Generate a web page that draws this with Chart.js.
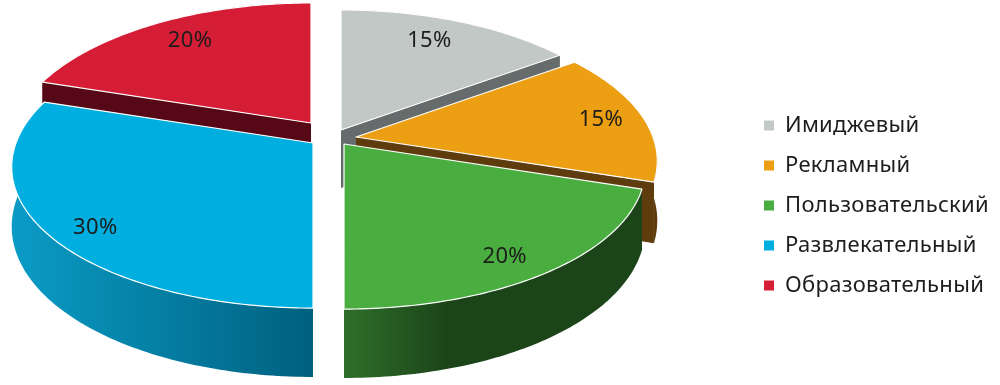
<!DOCTYPE html>
<html><head><meta charset="utf-8">
<script src="https://cdn.jsdelivr.net/npm/chart.js@4"></script>
<style>html,body{margin:0;padding:0;background:#fff}canvas{display:block}</style>
</head><body><canvas id="c" width="1000" height="385"></canvas>
<script>
const categories = ['Имиджевый','Рекламный','Пользовательский','Развлекательный','Образовательный'];
const shares = [15,15,20,30,20];
const topColors = ['#c1c8c6','#ec9f12','#49ae3f','#00aee0','#d51e36'];
const sideColors = [['#666c6b','#666c6b'],['#5f3c0d','#5f3c0d'],['#2f6f2a','#1b4419'],['#0a9cc6','#00607f'],['#560816','#560816']];
const paintOrder = [0,4,1,2,3];
// view settings of the tilted disc
const view = {cx:328, cy:135, rx:297, ry:139, perspX:0.168, perspY:0.158, depth:58, labelR:0.8};
const explode = [[13,-5],[28,2],[16,9],[-15,8],[-17,-12]];
const labelNudge = [[-8,0],[15,0],[4,13],[-9,14],[5,-1]];

function project(i, r, a, down){
  const X=r*Math.cos(a), Y=r*Math.sin(a), sx=1/(1-view.perspX*Y), s=1/(1-view.perspY*Y);
  return {x:view.cx+explode[i][0]+view.rx*X*sx,
          y:view.cy+explode[i][1]+view.ry*Y*s+(down?view.depth*s:0)};
}
function poly(ctx, pts){ctx.beginPath();pts.forEach((p,j)=>j?ctx.lineTo(p.x,p.y):ctx.moveTo(p.x,p.y));ctx.closePath();}
function arcPts(i,a0,a1,down){const n=Math.max(8,Math.ceil((a1-a0)*60)),o=[];for(let k=0;k<=n;k++)o.push(project(i,1,a0+(a1-a0)*k/n,down));return o;}

const disc3d = {
  id:'disc3d',
  beforeLayout(chart){chart.ctx.letterSpacing='0.3px';},
  beforeDraw(chart){chart.ctx.letterSpacing='0.3px';},
  beforeDatasetsDraw(chart){
    const ctx=chart.ctx, arcs=chart.getDatasetMeta(0).data;
    ctx.save();
    paintOrder.forEach(i=>{
      const a0=arcs[i].startAngle, a1=arcs[i].endAngle;
      const top=arcPts(i,a0,a1,false), bot=arcPts(i,a0,a1,true);
      const xs=top.map(p=>p.x), minX=Math.min(...xs), maxX=Math.max(...xs);
      const grad=ctx.createLinearGradient(minX,0,maxX,0);
      grad.addColorStop(0,sideColors[i][0]);
      grad.addColorStop(i===2?0.35:1,sideColors[i][1]);
      if(i===2)grad.addColorStop(1,sideColors[i][1]);
      // outer wall
      poly(ctx,top.concat(bot.slice().reverse()));ctx.fillStyle=grad;ctx.fill();
      // cut faces
      const cA=project(i,0,0,false), cB=project(i,0,0,true);
      [a0,a1].forEach(a=>{
        poly(ctx,[cA,project(i,1,a,false),project(i,1,a,true),cB]);
        ctx.fillStyle=sideColors[i][1];ctx.fill();
      });
      // top
      poly(ctx,[cA].concat(top));
      ctx.fillStyle=topColors[i];ctx.fill();
      ctx.strokeStyle='#fff';ctx.lineWidth=1.2;ctx.lineJoin='round';ctx.stroke();
    });
    // value labels
    ctx.fillStyle='#1d1d1b';ctx.font='22px "Noto Sans"';ctx.textAlign='center';ctx.textBaseline='middle';
    arcs.forEach((el,i)=>{
      const p=project(i,view.labelR,(el.startAngle+el.endAngle)/2,false);
      ctx.fillText(shares[i]+'%',p.x+labelNudge[i][0],p.y+labelNudge[i][1]);
    });
    ctx.restore();
    return false;
  }
};

new Chart(document.getElementById('c'),{
  type:'pie',
  data:{labels:categories,datasets:[{data:shares,backgroundColor:topColors,borderWidth:0}]},
  options:{
    responsive:false,animation:false,
    layout:{padding:{top:26,right:1}},
    plugins:{
      tooltip:{enabled:false},
      legend:{position:'right',labels:{boxWidth:10,boxHeight:10,padding:18,color:'#1d1d1b',font:{family:'"Noto Sans"',size:22}}}
    }
  },
  plugins:[disc3d]
});
</script></body></html>
